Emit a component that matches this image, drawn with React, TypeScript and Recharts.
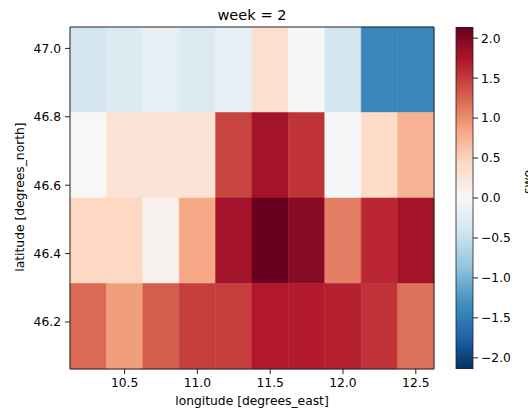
import React from "react";
import {
  ScatterChart,
  Scatter,
  XAxis,
  YAxis,
  ReferenceArea,
  BarChart,
  Bar,
} from "recharts";

// grid centres (degrees)
const LONS = [10.25, 10.5, 10.75, 11.0, 11.25, 11.5, 11.75, 12.0, 12.25, 12.5];
const LATS = [46.9375, 46.6875, 46.4375, 46.1875];
const HALF_LON = 0.125;
const HALF_LAT = 0.125;

// values per row, top (north) to bottom
const ROW_47_0 = [-0.4, -0.3, -0.18, -0.3, -0.2, 0.35, 0.02, -0.4, -1.4, -1.4];
const ROW_46_7 = [0.0, 0.3, 0.3, 0.3, 1.45, 1.8, 1.55, -0.02, 0.42, 0.75];
const ROW_46_4 = [0.45, 0.45, 0.08, 0.83, 1.8, 2.14, 1.95, 1.1, 1.62, 1.8];
const ROW_46_2 = [1.22, 0.9, 1.3, 1.48, 1.48, 1.72, 1.7, 1.66, 1.55, 1.18];
const ROWS = [ROW_47_0, ROW_46_7, ROW_46_4, ROW_46_2];

const X_TICKS = [10.5, 11.0, 11.5, 12.0, 12.5];
const Y_TICKS = [46.2, 46.4, 46.6, 46.8, 47.0];
const CB_TICKS = [-2, -1.5, -1, -0.5, 0, 0.5, 1, 1.5, 2];
const VMAX = 2.14;

// matplotlib RdBu_r
const RDBU_R = [
  "#053061", "#2166ac", "#4393c3", "#92c5de", "#d1e5f0", "#f7f7f7",
  "#fddbc7", "#f4a582", "#d6604d", "#b2182b", "#67001f",
];

const hex = (h: string) => [1, 3, 5].map((i) => parseInt(h.slice(i, i + 2), 16));

function colorFor(v: number) {
  const t = Math.max(0, Math.min(1, (v + VMAX) / (2 * VMAX))) * (RDBU_R.length - 1);
  const i = Math.min(Math.floor(t), RDBU_R.length - 2);
  const f = t - i;
  const a = hex(RDBU_R[i]);
  const b = hex(RDBU_R[i + 1]);
  const c = a.map((x, k) => Math.round(x + (b[k] - x) * f));
  return `rgb(${c[0]},${c[1]},${c[2]})`;
}

const cells = LATS.flatMap((lat, r) =>
  LONS.map((lon, c) => ({ lon, lat, value: ROWS[r][c] }))
);

const FONT = "DejaVu Sans";
const tickStyle = { fontSize: 12.3, fill: "#000", fontFamily: FONT };
const fmt = (v: number) => (v < 0 ? "\u2212" + Math.abs(v).toFixed(1) : v.toFixed(1));

export default function App() {
  return (
    <div style={{ position: "absolute", left: 0, top: 0, width: 528, height: 410, background: "#fff", overflow: "hidden" }}>
      <div style={{ position: "absolute", left: 0, top: 0 }}>
        <ScatterChart width={528} height={410} margin={{ top: 27, right: 94, bottom: 0, left: 10 }}>
          <XAxis
            type="number"
            dataKey="lon"
            domain={[LONS[0] - HALF_LON, LONS[LONS.length - 1] + HALF_LON]}
            ticks={X_TICKS}
            tickFormatter={fmt}
            height={41}
            tickSize={5}
            tickMargin={4}
            axisLine={false}
            tickLine={{ stroke: "#222" }}
            tick={tickStyle}
            allowDataOverflow
          />
          <YAxis
            type="number"
            dataKey="lat"
            domain={[LATS[LATS.length - 1] - HALF_LAT, LATS[0] + HALF_LAT]}
            ticks={Y_TICKS}
            tickFormatter={fmt}
            width={60}
            tickSize={5}
            tickMargin={4}
            axisLine={false}
            tickLine={{ stroke: "#222" }}
            tick={tickStyle}
            allowDataOverflow
          />
          {cells.map((d, i) => (
            <ReferenceArea
              key={i}
              x1={d.lon - HALF_LON}
              x2={d.lon + HALF_LON}
              y1={d.lat - HALF_LAT}
              y2={d.lat + HALF_LAT}
              fill={colorFor(d.value)}
              fillOpacity={1}
              stroke={colorFor(d.value)}
              strokeWidth={0.5}
              ifOverflow="visible"
            />
          ))}
          <ReferenceArea
            x1={LONS[0] - HALF_LON}
            x2={LONS[LONS.length - 1] + HALF_LON}
            y1={LATS[LATS.length - 1] - HALF_LAT}
            y2={LATS[0] + HALF_LAT}
            fill="none"
            stroke="#222"
            strokeWidth={1}
            ifOverflow="visible"
          />
          <Scatter data={cells} fill="none" isAnimationActive={false} />
        </ScatterChart>
      </div>

      <div style={{ position: "absolute", left: 440, top: 0 }}>
        <BarChart
          width={88}
          height={410}
          data={[{ name: "cb", range: [-VMAX, VMAX] }]}
          margin={{ top: 27, right: 0, bottom: 41, left: 16 }}
          barCategoryGap={0}
          barGap={0}
        >
          <defs>
            <linearGradient id="rdbu" x1="0" y1="1" x2="0" y2="0">
              {RDBU_R.map((c, i) => (
                <stop key={i} offset={`${(i / (RDBU_R.length - 1)) * 100}%`} stopColor={c} />
              ))}
            </linearGradient>
          </defs>
          <XAxis dataKey="name" hide />
          <YAxis
            orientation="right"
            type="number"
            domain={[-VMAX, VMAX]}
            ticks={CB_TICKS}
            tickFormatter={fmt}
            width={55}
            tickSize={5}
            tickMargin={3}
            axisLine={false}
            tickLine={{ stroke: "#222" }}
            tick={{ ...tickStyle, textAnchor: "start" }}
            allowDataOverflow
          />
          <Bar dataKey="range" fill="url(#rdbu)" stroke="#222" strokeWidth={0.8} isAnimationActive={false} />
        </BarChart>
      </div>

      <svg width={528} height={410} style={{ position: "absolute", left: 0, top: 0, pointerEvents: "none" }}>
        <text x={252} y={20} textAnchor="middle" fontFamily={FONT} fontSize={14.6} fill="#000">
          week = 2
        </text>
        <text x={252} y={404.5} textAnchor="middle" fontFamily={FONT} fontSize={12.3} fill="#000">
          longitude [degrees_east]
        </text>
        <text
          x={24}
          y={197}
          textAnchor="middle"
          fontFamily={FONT}
          fontSize={12.3}
          fill="#000"
          transform="rotate(-90 24 197)"
        >
          latitude [degrees_north]
        </text>
        <text
          x={532}
          y={182}
          textAnchor="middle"
          fontFamily={FONT}
          fontSize={12.3}
          fill="#000"
          transform="rotate(-90 532 182)"
        >
          swe
        </text>
      </svg>
    </div>
  );
}
